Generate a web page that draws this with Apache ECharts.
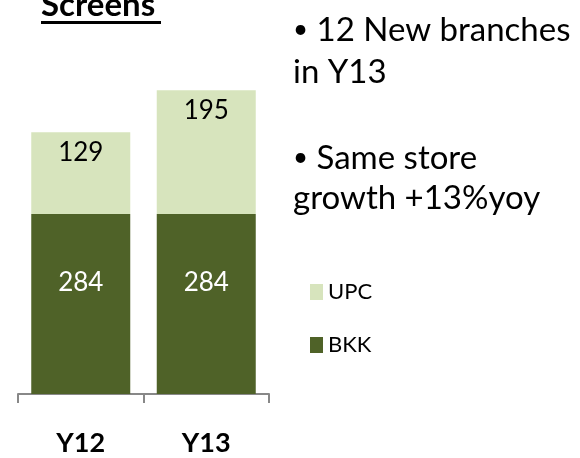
<!DOCTYPE html>
<html>
<head>
<meta charset="utf-8">
<script src="https://cdn.jsdelivr.net/npm/echarts@6/dist/echarts.min.js"></script>
<style>
  html, body { margin: 0; padding: 0; background: #fff; }
  #chart { width: 580px; height: 458px; }
</style>
</head>
<body>
<div id="chart"></div>
<script>
var categories = ["Y12", "Y13"];
var bkkValues = [284, 284];
var upcValues = [129, 195];
var notes = ["12 New branches", "in Y13", "Same store", "growth +13%yoy"];

var dom = document.getElementById("chart");
var myChart = echarts.init(dom, null, { renderer: "canvas" });

var FONT = "Lato, 'Open Sans', sans-serif";

// bullet lines: smaller dot in front of the text
function noteText(x, y, txt, bullet) {
  return {
    type: "text",
    x: x,
    y: y,
    style: {
      text: bullet ? "{b|\u2022} " + txt : txt,
      font: "33px " + FONT,
      fill: "#000",
      textVerticalAlign: "middle",
      rich: { b: { fontSize: 26, fontFamily: FONT, fill: "#000" } }
    }
  };
}

var option = {
  animation: false,
  textStyle: { fontFamily: FONT },
  grid: { left: 18, right: 311, top: 77, bottom: 64 },
  legend: {
    orient: "vertical",
    left: 305,
    top: 276,
    icon: "rect",
    itemWidth: 13,
    itemHeight: 16,
    itemGap: 31,
    data: ["UPC", "BKK"],
    textStyle: { fontFamily: FONT, fontSize: 22, color: "#000" }
  },
  xAxis: {
    type: "category",
    data: categories,
    axisLine: { lineStyle: { color: "#888", width: 2 } },
    axisTick: { show: true, length: 9, lineStyle: { color: "#888", width: 2 } },
    axisLabel: { margin: 36, fontFamily: FONT, fontSize: 27, fontWeight: "bold", color: "#000" }
  },
  yAxis: {
    type: "value",
    min: 0,
    max: 500,
    show: false,
    splitLine: { show: false }
  },
  series: [
    {
      name: "BKK",
      type: "bar",
      stack: "total",
      barWidth: 99,
      data: bkkValues,
      itemStyle: { color: "#4F6228" },
      label: {
        show: true,
        position: ["50%", 69],
        align: "center",
        verticalAlign: "middle",
        color: "#fff",
        fontFamily: FONT,
        fontSize: 26
      }
    },
    {
      name: "UPC",
      type: "bar",
      stack: "total",
      barWidth: 99,
      data: upcValues,
      itemStyle: { color: "#D7E4BD" },
      label: {
        show: true,
        position: ["50%", 20],
        align: "center",
        verticalAlign: "middle",
        color: "#000",
        fontFamily: FONT,
        fontSize: 26
      }
    }
  ],
  graphic: [
    {
      type: "text",
      left: 41,
      top: -11,
      style: { text: "Screens", font: "bold 33px " + FONT, fill: "#000" }
    },
    {
      type: "rect",
      left: 41,
      top: 21,
      shape: { width: 120, height: 3 },
      style: { fill: "#000" }
    },
    noteText(293, 30, notes[0], true),
    noteText(293, 72, notes[1], false),
    noteText(293, 158, notes[2], true),
    noteText(293, 198, notes[3], false)
  ]
};

myChart.setOption(option);
window.addEventListener("resize", myChart.resize);
</script>
</body>
</html>
